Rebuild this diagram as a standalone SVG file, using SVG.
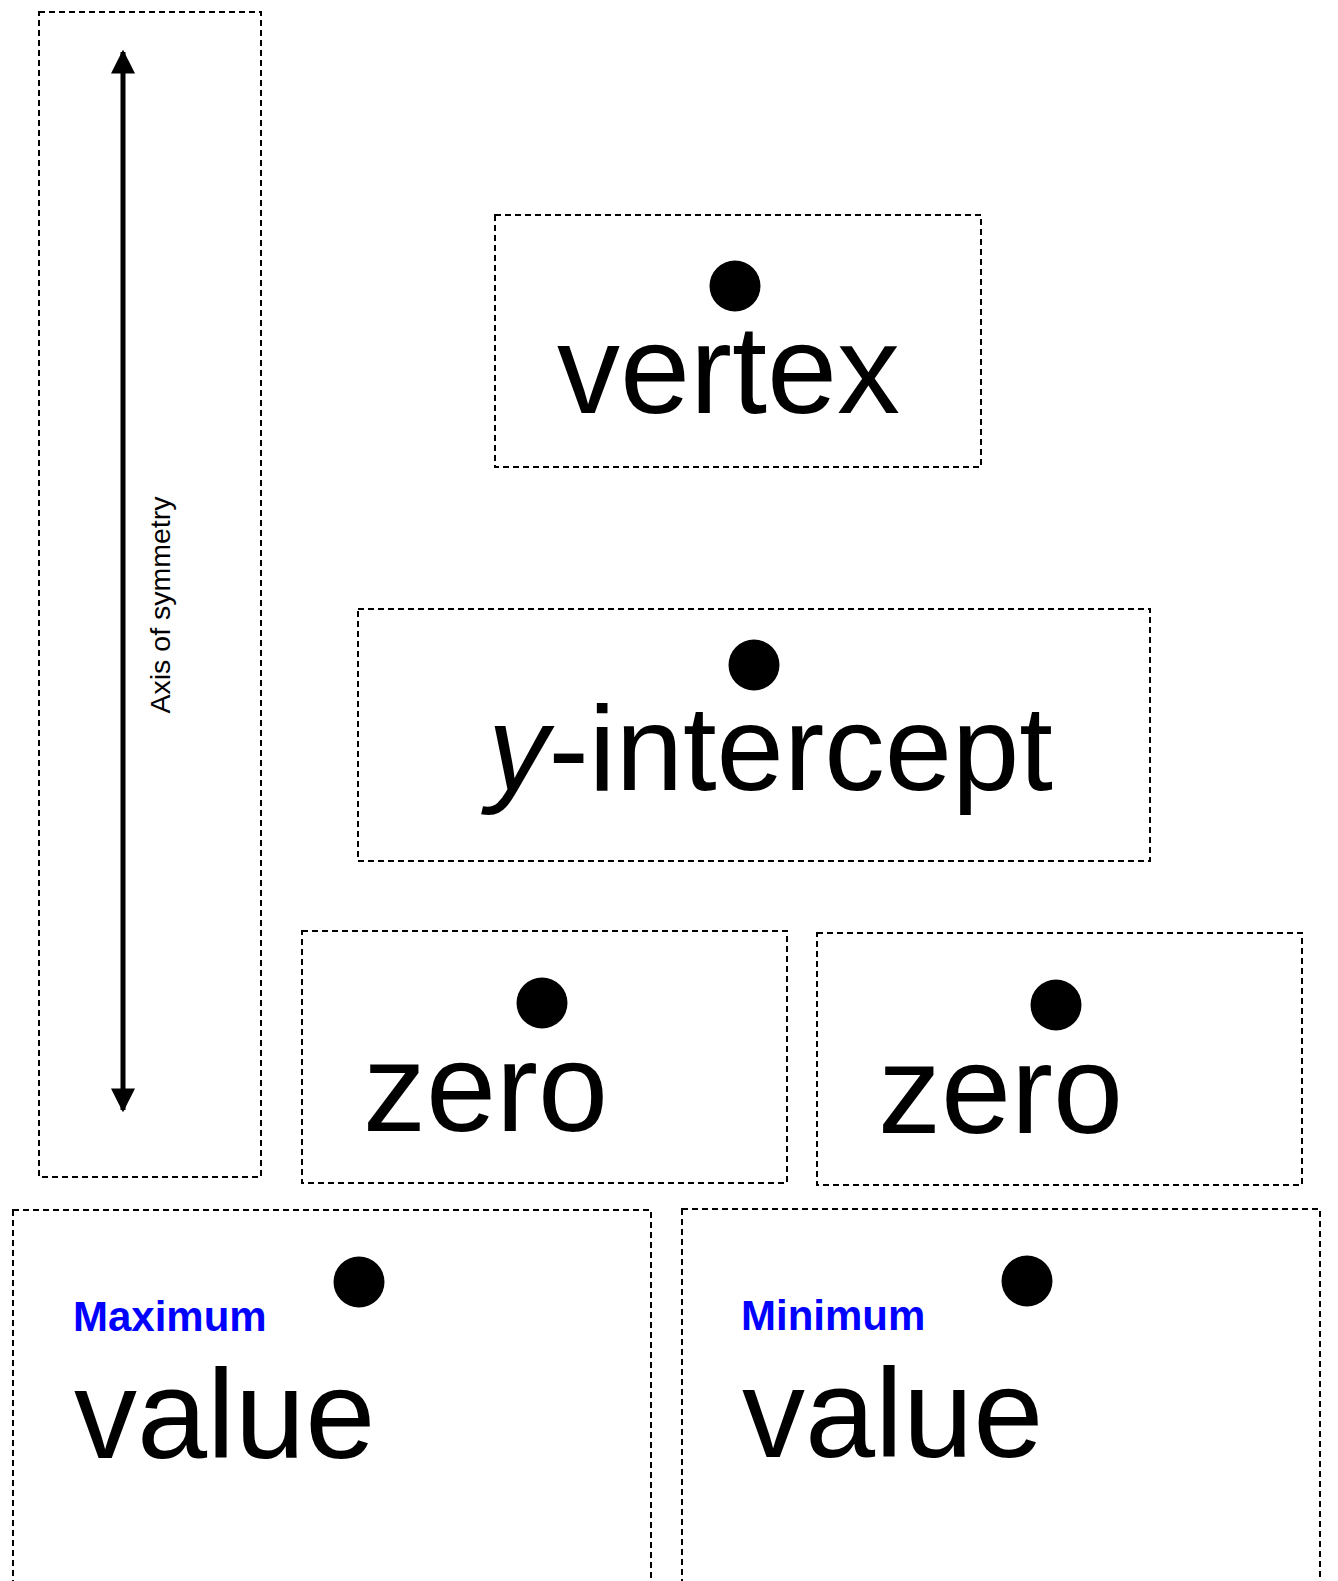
<svg xmlns="http://www.w3.org/2000/svg" width="1338" height="1581" viewBox="0 0 1338 1581">
<style>
.box{fill:none;stroke:#000;stroke-width:2;stroke-dasharray:6 4}
.big{font-family:"Liberation Sans",Arial,sans-serif;font-size:126px;fill:#000}
.lbl{font-family:"Liberation Sans",Arial,sans-serif;font-size:42px;font-weight:bold;fill:#0000FF}
.dot{fill:#000}
</style>
<defs>
<marker id="ah" viewBox="0 0 10 10" refX="9" refY="5" markerWidth="4.8" markerHeight="4.8" orient="auto-start-reverse" markerUnits="strokeWidth">
<path d="M0,0 L10,5 L0,10 Z" fill="#000"/>
</marker>
</defs>
<rect width="1338" height="1581" fill="#fff"/>
<g id="axis">
<rect class="box" x="39" y="12" width="222" height="1165"/>
<text x="170" y="605" font-family="Liberation Sans,Arial,sans-serif" font-size="28.5" text-anchor="middle" transform="rotate(-90 170 605)">Axis of symmetry</text>
</g>
<g id="connectors">
<line x1="123" y1="52" x2="123" y2="1110" stroke="#000" stroke-width="5" marker-start="url(#ah)" marker-end="url(#ah)"/>
</g>
<g id="vertex">
<rect class="box" x="495" y="215" width="486" height="252"/>
<circle class="dot" cx="735" cy="286" r="25.5"/>
<text class="big" x="557" y="413">vertex</text>
</g>
<g id="y-intercept">
<rect class="box" x="358" y="609" width="792" height="252"/>
<circle class="dot" cx="754" cy="665" r="25.5"/>
<text class="big" x="488" y="790" style="font-size:121px"><tspan font-style="italic">y</tspan>-intercept</text>
</g>
<g id="zero1">
<rect class="box" x="302" y="931" width="485" height="252"/>
<circle class="dot" cx="542" cy="1003" r="25.5"/>
<text class="big" x="363" y="1131">zero</text>
</g>
<g id="zero2">
<rect class="box" x="817" y="933" width="485" height="252"/>
<circle class="dot" cx="1056" cy="1005" r="25.5"/>
<text class="big" x="878" y="1133">zero</text>
</g>
<g id="maximum">
<rect class="box" x="13" y="1210" width="638" height="400"/>
<circle class="dot" cx="359" cy="1282" r="25.5"/>
<text class="lbl" x="73" y="1331">Maximum</text>
<text class="big" x="74" y="1458">value</text>
</g>
<g id="minimum">
<rect class="box" x="682" y="1209" width="638" height="400"/>
<circle class="dot" cx="1027" cy="1281" r="25.5"/>
<text class="lbl" x="741" y="1330">Minimum</text>
<text class="big" x="742" y="1457">value</text>
</g>
</svg>
